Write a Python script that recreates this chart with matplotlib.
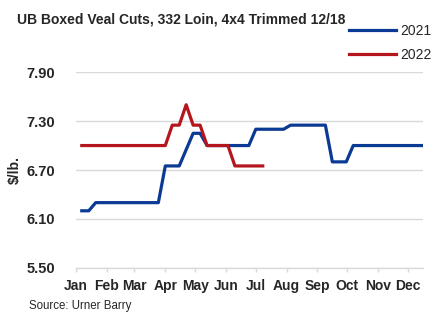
import matplotlib
matplotlib.use("Agg")
import matplotlib.pyplot as plt

plt.rcParams['font.family'] = ['Liberation Sans', 'DejaVu Sans']

# Weekly report values ($/lb.), first report in the first week of January
values_2021 = [6.20, 6.20] + [6.30] * 10 + [6.75, 6.75, 6.75, 6.95, 7.15, 7.15] \
    + [7.00] * 7 + [7.20] * 5 + [7.25] * 6 + [6.80] * 3 + [7.00] * 11
values_2022 = [7.00] * 13 + [7.25, 7.25, 7.50, 7.25, 7.25] + [7.00] * 4 + [6.75] * 5

first_day = 6          # day of year of the first weekly report
days_2021 = [first_day + 7 * i for i in range(len(values_2021))]
days_2022 = [first_day + 7 * i for i in range(len(values_2022))]

months = ["Jan", "Feb", "Mar", "Apr", "May", "Jun",
          "Jul", "Aug", "Sep", "Oct", "Nov", "Dec"]
month_starts = [0, 31, 59, 90, 120, 151, 181, 212, 243, 273, 304, 334]
y_ticks = [5.50, 6.10, 6.70, 7.30, 7.90]

blue = "#0b3a94"
red = "#b5161e"
text_col = "#262626"
grid_col = "#d9d9d9"

fig = plt.figure(figsize=(4.46, 3.22), dpi=100)
ax = fig.add_axes([0.170, 0.168, 0.778, 0.608])

ax.plot(days_2021, values_2021, color=blue, lw=2.3, label="2021",
        solid_joinstyle="round", zorder=3)
ax.plot(days_2022, values_2022, color=red, lw=2.3, label="2022",
        solid_joinstyle="round", zorder=3)

ax.set_xlim(0, days_2021[-1])
ax.set_ylim(y_ticks[0], y_ticks[-1])
ax.set_yticks(y_ticks)
ax.set_yticklabels([f"{v:.2f}" for v in y_ticks], fontsize=10.5,
                   fontweight="bold", color=text_col)
ax.set_xticks(month_starts)
ax.set_xticklabels(months, fontsize=10, fontweight="bold", color=text_col)

ax.yaxis.grid(True, color=grid_col, lw=1.0)
ax.set_axisbelow(True)
for side in ["top", "right", "left"]:
    ax.spines[side].set_visible(False)
ax.spines["bottom"].set_color(grid_col)
ax.spines["bottom"].set_linewidth(1.0)
ax.tick_params(axis="y", length=0, pad=15)
ax.tick_params(axis="x", length=3, color=grid_col, width=1.0, pad=5)

ax.set_ylabel("$/lb.", fontsize=10, fontweight="bold", color=text_col, labelpad=3)

fig.text(0.038, 0.94, "UB Boxed Veal Cuts, 332 Loin, 4x4 Trimmed 12/18",
         fontsize=10, fontweight="bold", color=text_col, va="center", ha="left")
fig.text(0.066, 0.05, "Source: Urner Barry", fontsize=8.3, color=text_col,
         va="center", ha="left")

fig.legend(loc="upper right", bbox_to_anchor=(0.968, 0.925), frameon=False,
           fontsize=10, handlelength=3.4, handletextpad=0.3, labelspacing=0.7,
           borderpad=0, borderaxespad=0, labelcolor=text_col)

fig.savefig("out.png", dpi=100)
